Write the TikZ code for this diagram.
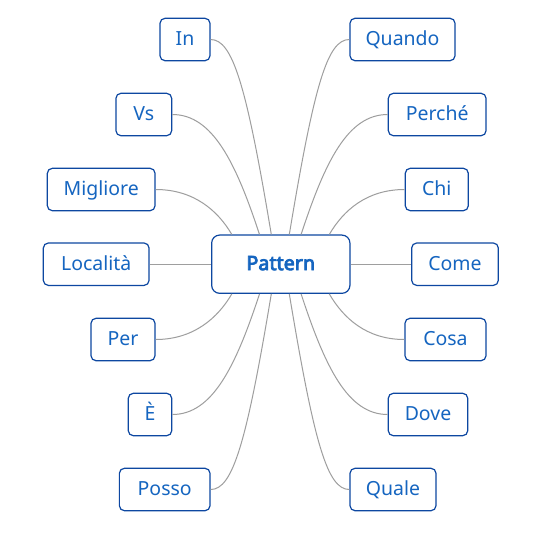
\documentclass[tikz,border=0pt]{standalone}
\usepackage{fontspec}
\setmainfont{Noto Sans}
\newfontfamily\patfont{Noto Sans}[FakeBold=4]
\usetikzlibrary{calc}
\definecolor{textc}{HTML}{1565C0}
\definecolor{bordc}{HTML}{0D47A1}
\definecolor{edgec}{HTML}{9E9E9E}
\tikzset{
  leaf/.style={draw=bordc, fill=white, rounded corners=3.75pt, line width=0.9pt,
    text=textc, minimum height=31.8pt, inner sep=0pt, text height=10.4pt, text depth=1.6pt,
    font=\fontsize{14.6pt}{17pt}\selectfont},
  rootbox/.style={leaf, rounded corners=6pt, minimum height=43.7pt, minimum width=103.7pt,
    font=\patfont\fontsize{14.8pt}{17pt}\selectfont},
  edge/.style={draw=edgec, line width=0.75pt}
}
\begin{document}
\begin{tikzpicture}[x=0.75pt,y=-0.75pt]
\useasboundingbox[fill=white] (0,0) rectangle (540,537);
% root
\node[rootbox] (pat) at (280.8,264.2) {Pattern};
% left
\node[leaf, minimum width=37.5pt] (in) at (185,39.5) {In};
\node[leaf, minimum width=41.8pt] (vs) at (143.8,114.5) {Vs};
\node[leaf, minimum width=80.8pt] (mig) at (101.2,189.5) {Migliore};
\node[leaf, minimum width=79.3pt] (loc) at (96.2,264.2) {Località};
\node[leaf, minimum width=48pt] (per) at (123,339.5) {Per};
\node[leaf, minimum width=32.6pt] (e) at (150,414.5) {È};
\node[leaf, minimum width=68pt] (pos) at (164.7,489.5) {Posso};
% right
\node[leaf, minimum width=78.8pt] (qua) at (402.5,39.5) {Quando};
\node[leaf, minimum width=73.3pt] (perc) at (437.2,114.5) {Perché};
\node[leaf, minimum width=47.3pt] (chi) at (436.8,189.5) {Chi};
\node[leaf, minimum width=65pt] (come) at (455,264.2) {Come};
\node[leaf, minimum width=60.8pt] (cosa) at (445.5,339.5) {Cosa};
\node[leaf, minimum width=59.6pt] (dove) at (428,414.5) {Dove};
\node[leaf, minimum width=64.5pt] (qual) at (393,489.5) {Quale};
% end points on root border
\coordinate (tA) at ($(pat.north)+(-49,0)$);
\coordinate (tB) at ($(pat.north)+(-21.3,0)$);
\coordinate (tC) at ($(pat.north)+(-9.5,0)$);
\coordinate (tD) at ($(pat.north)+(8.5,0)$);
\coordinate (tE) at ($(pat.north)+(20.3,0)$);
\coordinate (tF) at ($(pat.north)+(48.5,0)$);
\coordinate (bA) at ($(pat.south)+(-49,0)$);
\coordinate (bB) at ($(pat.south)+(-21.3,0)$);
\coordinate (bC) at ($(pat.south)+(-9.5,0)$);
\coordinate (bD) at ($(pat.south)+(8.5,0)$);
\coordinate (bE) at ($(pat.south)+(20.3,0)$);
\coordinate (bF) at ($(pat.south)+(48.5,0)$);
% edges left top
\draw[edge] (in.east) .. controls +(22,0) and +(-25,-150) .. (tC);
\draw[edge] (vs.east) .. controls +(40,0) and +(-24,-73) .. (tB);
\draw[edge] (mig.east) .. controls +(38,0) and +(-14,-24) .. (tA);
% edges right top
\draw[edge] (qua.west) .. controls +(-22,0) and +(25,-150) .. (tD);
\draw[edge] (perc.west) .. controls +(-40,0) and +(24,-73) .. (tE);
\draw[edge] (chi.west) .. controls +(-38,0) and +(14,-24) .. (tF);
% edges left bottom
\draw[edge] (pos.east) .. controls +(22,0) and +(-25,150) .. (bC);
\draw[edge] (e.east) .. controls +(40,0) and +(-24,73) .. (bB);
\draw[edge] (per.east) .. controls +(38,0) and +(-14,24) .. (bA);
% edges right bottom
\draw[edge] (qual.west) .. controls +(-22,0) and +(25,150) .. (bD);
\draw[edge] (dove.west) .. controls +(-40,0) and +(24,73) .. (bE);
\draw[edge] (cosa.west) .. controls +(-38,0) and +(14,24) .. (bF);
% straight
\draw[edge] (loc.east) -- (pat.west);
\draw[edge] (come.west) -- (pat.east);
\end{tikzpicture}
\end{document}
